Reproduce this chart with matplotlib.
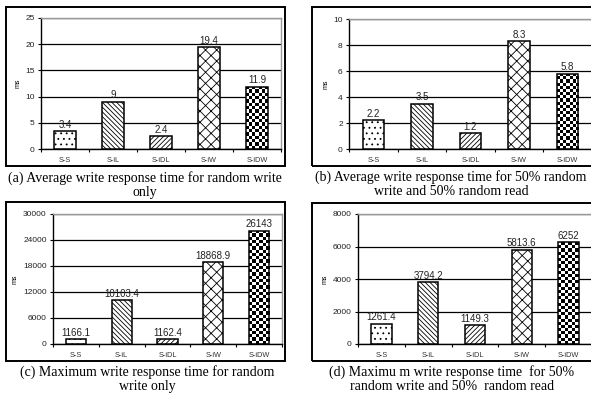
import matplotlib
matplotlib.use("Agg")
import matplotlib.pyplot as plt
from matplotlib.patches import Rectangle
import numpy as np

W, H = 591, 394

categories = ["S-S", "S-iL", "S-iDL", "S-iW", "S-iDW"]

avg_write_only = [3.4, 9, 2.4, 19.4, 11.9]
avg_mixed = [2.2, 3.5, 1.2, 8.3, 5.8]
max_write_only = [1166.1, 10103.4, 1162.4, 18868.9, 26143]
max_mixed = [1261.4, 3794.2, 1149.3, 5813.6, 6252]

yticks_a = [0, 5, 10, 15, 20, 25]
yticks_b = [0, 2, 4, 6, 8, 10]
yticks_c = [0, 6000, 12000, 18000, 24000, 30000]
yticks_d = [0, 2000, 4000, 6000, 8000]

captions = [
    "(a) Average write response time for random write\nonly",
    "(b) Average write response time for 50% random\nwrite and 50% random read",
    "(c) Maximum write response time for random\nwrite only",
    "(d) Maximu m write response time  for 50%\nrandom write and 50%  random read",
]

hatches = ["...", "\\" * 7, "/" * 7, "xxx", None]

plt.rcParams["hatch.linewidth"] = 0.6
plt.rcParams["font.family"] = "Liberation Sans"

fig = plt.figure(figsize=(W / 100, H / 100), dpi=100)


def fig_rect(l, t, r, b):
    return [l / W, 1 - b / H, (r - l) / W, (b - t) / H]


def checker_bar(ax, bar, square_px=3.2):
    # checkerboard fill clipped to the bar
    fig.canvas.draw()
    bb = bar.get_window_extent()
    nx = max(1, int(round(bb.width / square_px)))
    ny = max(1, int(round(bb.height / square_px)))
    board = (np.add.outer(np.arange(ny), np.arange(nx)) % 2).astype(float)
    x0, w, h = bar.get_x(), bar.get_width(), bar.get_height()
    im = ax.imshow(board, cmap="gray", extent=(x0, x0 + w, 0, h),
                   aspect="auto", interpolation="nearest", zorder=2,
                   origin="lower", vmin=0, vmax=1)
    im.set_clip_path(bar)


def panel(axrect, boxrect, caprect, values, yticks, caption):
    ax = fig.add_axes(fig_rect(*axrect))
    x = np.arange(len(categories))
    bars = ax.bar(x, values, width=0.44, color="white", edgecolor="black",
                  linewidth=1.1, zorder=3)
    for b, h in zip(bars, hatches):
        if h is None:
            b.set_facecolor("none")
        else:
            b.set_hatch(h)
    ax.set_xlim(-0.5, len(categories) - 0.5)
    ax.set_ylim(yticks[0], yticks[-1])
    ax.set_yticks(yticks)
    ax.set_xticks(x)
    ax.set_xticklabels(categories, fontsize=5.3, color="#333333")
    ax.set_xticks(np.arange(len(categories) + 1) - 0.5, minor=True)
    ax.tick_params(axis="x", which="major", length=0, pad=6)
    ax.tick_params(axis="x", which="minor", length=2.5, width=0.8,
                   direction="out")
    ax.tick_params(axis="y", length=2.5, width=0.8, pad=2, labelsize=6,
                   labelcolor="#222222")
    ax.set_ylabel("ms", fontsize=5, labelpad=3)
    ax.set_axisbelow(True)
    ax.grid(axis="y", color="black", linewidth=0.9)
    for s in ("left", "bottom"):
        ax.spines[s].set_linewidth(1.0)
    for s in ("top", "right"):
        ax.spines[s].set_color("#999999")
        ax.spines[s].set_linewidth(1.0)
    ax.bar_label(bars, labels=[f"{v:g}" for v in values], padding=1,
                 fontsize=7, color="#222222")
    checker_bar(ax, bars[-1])
    l, t, r, b = boxrect
    fig.add_artist(Rectangle((l / W, 1 - b / H), (r - l) / W, (b - t) / H,
                             transform=fig.transFigure, fill=False,
                             edgecolor="black", linewidth=1.4))
    cx, cy = caprect
    fig.text(cx / W, 1 - cy / H, caption, ha="center", va="center",
             family="Liberation Serif", fontsize=10, linespacing=1.15)
    return ax


panel((41, 18, 281, 149), (6, 7, 285, 166), (145, 185), avg_write_only, yticks_a, captions[0])
panel((349, 19, 592, 149), (312, 7, 593, 166), (451, 184), avg_mixed, yticks_b, captions[1])
panel((53, 214, 282, 344), (6, 202, 285, 361), (147, 379), max_write_only, yticks_c, captions[2])
panel((358, 214, 592, 344), (312, 203, 593, 361), (452, 379), max_mixed, yticks_d, captions[3])

fig.savefig("out.png", dpi=100)
